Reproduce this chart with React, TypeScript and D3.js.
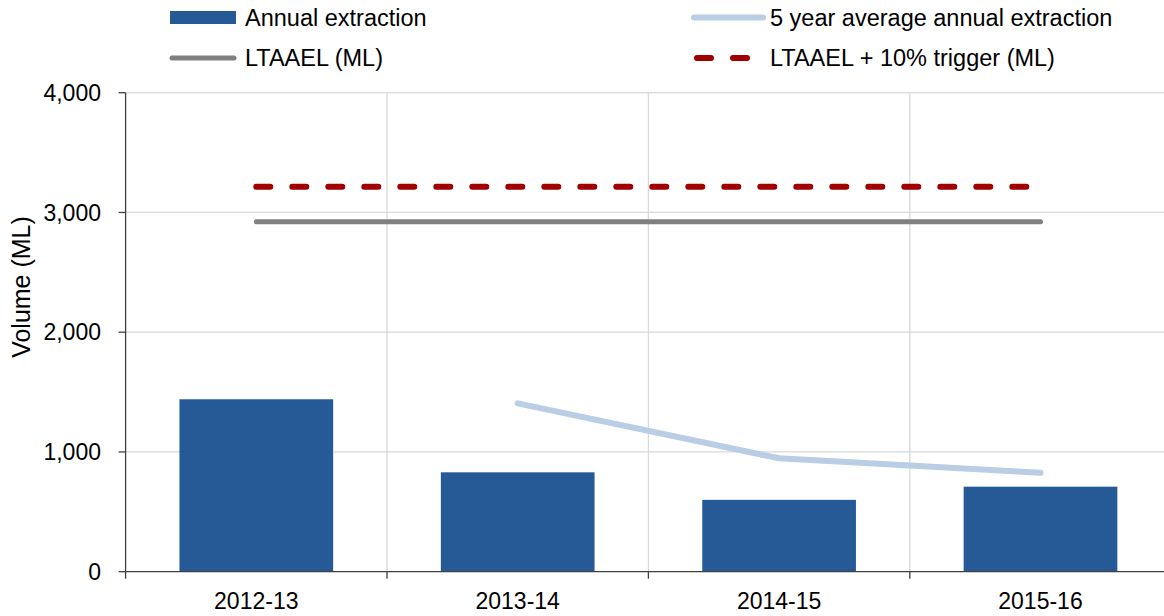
import React from "react";
import * as d3 from "d3";

const categories = ["2012-13", "2013-14", "2014-15", "2015-16"];
const annualExtraction = [1440, 830, 600, 710];
const fiveYearAverage: (number | null)[] = [null, 1406, 947, 826];
const ltaael = [2923, 2923, 2923, 2923];
const trigger = [3215, 3215, 3215, 3215];
const yTicks = [0, 1000, 2000, 3000, 4000];

const W = 1164;
const H = 616;
const M = { left: 125.6, right: 1171.2, top: 92.7, bottom: 571.7 };
const FONT = "'Liberation Sans', Arial, sans-serif";

export default function App() {
  const x = d3.scaleBand<string>().domain(categories).range([M.left, M.right]).paddingInner(0).paddingOuter(0);
  const y = d3.scaleLinear().domain([0, 4000]).range([M.bottom, M.top]);
  const bw = x.bandwidth();
  const barW = bw * 0.588;
  const cx = (c: string) => (x(c) as number) + bw / 2;

  const line = d3
    .line<[string, number | null]>()
    .defined((d) => d[1] !== null)
    .x((d) => cx(d[0]))
    .y((d) => y(d[1] as number));

  const pairs = (arr: (number | null)[]) => categories.map((c, i) => [c, arr[i]] as [string, number | null]);
  const fmt = d3.format(",");

  return (
    <div style={{ position: "absolute", left: 0, top: 0 }}>
      <svg width={W} height={H} style={{ display: "block" }} fontFamily={FONT}>
        <rect x={0} y={0} width={W} height={H} fill="#fff" />
        {yTicks.filter((t) => t > 0).map((t) => (
          <line key={"hg" + t} x1={M.left} x2={M.right} y1={y(t)} y2={y(t)} stroke="#d9d9d9" strokeWidth={1.3} />
        ))}
        {categories.map((c) => (
          <line key={"vg" + c} x1={(x(c) as number) + bw} x2={(x(c) as number) + bw} y1={M.top} y2={M.bottom} stroke="#d9d9d9" strokeWidth={1.3} />
        ))}
        {categories.map((c, i) => (
          <rect key={"b" + c} x={cx(c) - barW / 2} y={y(annualExtraction[i])} width={barW} height={y(0) - y(annualExtraction[i])} fill="#265A97" />
        ))}
        <line x1={M.left} x2={M.left} y1={M.top} y2={M.bottom} stroke="#404040" strokeWidth={1.3} />
        <line x1={M.left} x2={M.right} y1={M.bottom} y2={M.bottom} stroke="#404040" strokeWidth={1.3} />
        {yTicks.map((t) => (
          <g key={"yt" + t}>
            <line x1={M.left - 7} x2={M.left} y1={y(t)} y2={y(t)} stroke="#404040" strokeWidth={1.3} />
            <text x={101} y={y(t)} dy="0.36em" textAnchor="end" fontSize={23} fill="#000">{fmt(t)}</text>
          </g>
        ))}
        {[M.left, ...categories.map((c) => (x(c) as number) + bw)].map((px, i) => (
          <line key={"xt" + i} x1={px} x2={px} y1={M.bottom} y2={M.bottom + 7} stroke="#404040" strokeWidth={1.3} />
        ))}
        {categories.map((c) => (
          <text key={"xl" + c} x={cx(c)} y={609} textAnchor="middle" fontSize={23} fill="#000">{c}</text>
        ))}
        <text transform={`translate(30,287) rotate(-90)`} textAnchor="middle" fontSize={25} fill="#000">Volume (ML)</text>
        <path d={line(pairs(ltaael)) || ""} fill="none" stroke="#808080" strokeWidth={5} strokeLinecap="round" />
        <path d={line(pairs(trigger)) || ""} fill="none" stroke="#A00000" strokeWidth={6} strokeLinecap="round" strokeDasharray="14 22" />
        <path d={line(pairs(fiveYearAverage)) || ""} fill="none" stroke="#B9CDE5" strokeWidth={6} strokeLinecap="round" strokeLinejoin="round" />
        <rect x={170} y={11} width={66} height={13} fill="#265A97" />
        <text x={245} y={17.5} dy="0.35em" fontSize={23.5} fill="#000">Annual extraction</text>
        <line x1={694} x2={763} y1={17.5} y2={17.5} stroke="#B9CDE5" strokeWidth={6} strokeLinecap="round" />
        <text x={770} y={17.5} dy="0.35em" fontSize={23.5} fill="#000">5 year average annual extraction</text>
        <line x1={172} x2={234} y1={58} y2={58} stroke="#808080" strokeWidth={5} strokeLinecap="round" />
        <text x={245} y={58} dy="0.35em" fontSize={23.5} fill="#000">LTAAEL (ML)</text>
        <line x1={697} x2={763} y1={58} y2={58} stroke="#A00000" strokeWidth={6} strokeLinecap="round" strokeDasharray="14 22" />
        <text x={770} y={58} dy="0.35em" fontSize={23.5} fill="#000">LTAAEL + 10% trigger (ML)</text>
      </svg>
    </div>
  );
}
